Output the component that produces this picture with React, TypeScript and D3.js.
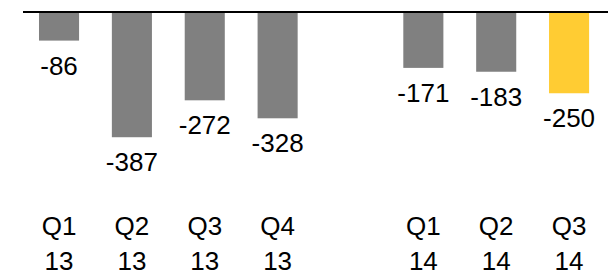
import { useRef, useEffect } from "react";
import * as d3 from "d3";

const quarters = ["Q1", "Q2", "Q3", "Q4", "Q1", "Q2", "Q3"];
const years = ["13", "13", "13", "13", "14", "14", "14"];
const values = [-86, -387, -272, -328, -171, -183, -250];
const highlight = [false, false, false, false, false, false, true];
// slot order, with an empty slot between the two years
const slots = ["Q1 13", "Q2 13", "Q3 13", "Q4 13", "gap", "Q1 14", "Q2 14", "Q3 14"];

const App = () => {
  const svgRef = useRef<SVGSVGElement>(null);

  useEffect(() => {
    const w = 608;
    const h = 273;
    const svg = d3
      .select(svgRef.current)
      .attr("width", w)
      .attr("height", h)
      .style("position", "absolute")
      .style("left", "0")
      .style("top", "0")
      .style("font-family", "'Liberation Sans', Arial, sans-serif");
    svg.selectAll("*").remove();

    const keys = quarters.map((q, i) => q + " " + years[i]);

    // scales
    const xScale = d3
      .scaleBand()
      .domain(slots)
      .range([22.6, 605.5])
      .paddingInner(0.45)
      .paddingOuter(0.225);
    const yScale = d3.scaleLinear().domain([0, -400]).range([13, 141.4]);

    // bars
    svg
      .selectAll(".bar")
      .data(values)
      .join("rect")
      .attr("class", "bar")
      .attr("x", (d, i) => xScale(keys[i])!)
      .attr("y", yScale(0))
      .attr("width", xScale.bandwidth())
      .attr("height", (d) => yScale(d) - yScale(0))
      .attr("fill", (d, i) => (highlight[i] ? "#FFCC33" : "#808080"));

    // zero line
    svg
      .append("line")
      .attr("x1", 23)
      .attr("x2", w)
      .attr("y1", yScale(0) - 1)
      .attr("y2", yScale(0) - 1)
      .attr("stroke", "#000")
      .attr("stroke-width", 2);

    // value labels under bars
    svg
      .selectAll(".val")
      .data(values)
      .join("text")
      .attr("class", "val")
      .attr("x", (d, i) => xScale(keys[i])! + xScale.bandwidth() / 2)
      .attr("y", (d) => yScale(d) + 34)
      .attr("text-anchor", "middle")
      .attr("font-size", 26)
      .attr("fill", "#000")
      .text((d) => d);

    // category labels (two lines)
    const cat = svg
      .selectAll(".cat")
      .data(keys)
      .join("text")
      .attr("class", "cat")
      .attr("text-anchor", "middle")
      .attr("font-size", 26)
      .attr("fill", "#000");
    cat
      .append("tspan")
      .attr("x", (d) => xScale(d)! + xScale.bandwidth() / 2)
      .attr("y", 235)
      .text((d, i) => quarters[i]);
    cat
      .append("tspan")
      .attr("x", (d) => xScale(d)! + xScale.bandwidth() / 2)
      .attr("y", 270)
      .text((d, i) => years[i]);
  }, []);

  return <svg ref={svgRef}></svg>;
};

export default App;
